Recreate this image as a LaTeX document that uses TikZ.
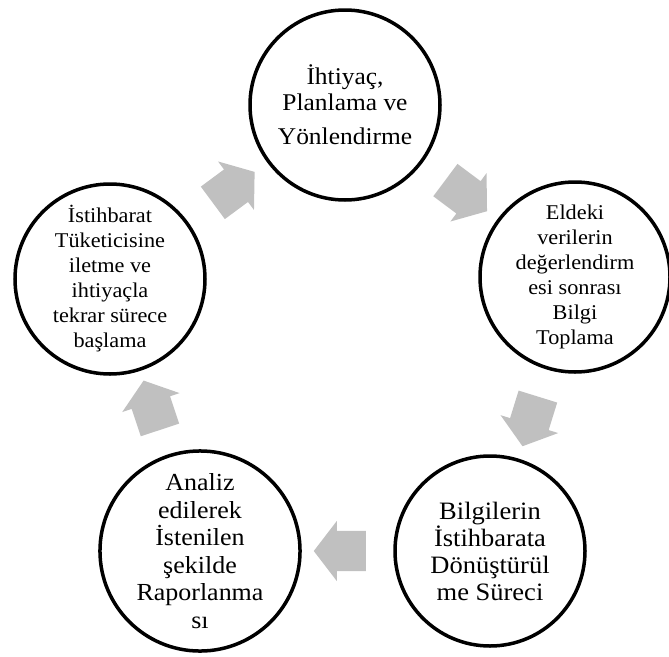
\documentclass[tikz,border=0pt]{standalone}
\usepackage{fontspec}
\setmainfont{Liberation Serif}[FakeStretch=1.06]
\usetikzlibrary{shapes.arrows}
\definecolor{arrowgray}{RGB}{192,192,192}

\begin{document}
\begin{tikzpicture}[x=1pt,y=-1pt,
  stage/.style={draw,circle,line width=3.5pt,minimum size=190pt,inner sep=0pt,align=center},
  blockarrow/.style={single arrow,fill=arrowgray,draw=none,sloped,allow upside down,
    minimum height=52pt,inner xsep=0pt,inner ysep=20pt,single arrow head extend=10pt,
    single arrow tip angle=105}]
\useasboundingbox (0,0) rectangle (669,656);

\node[stage,font={\fontsize{24}{26}\selectfont}] (need) at (345,105)
  {İhtiyaç,\\ Planlama ve\\[8pt] Yönlendirme};
\node[stage,font={\fontsize{21}{25}\selectfont}] (collect) at (575,277)
  {Eldeki\\ verilerin\\ değerlendirm\\ esi sonrası\\ Bilgi\\ Toplama};
\node[stage,font={\fontsize{25}{27}\selectfont}] (process) at (490,551)
  {Bilgilerin\\ İstihbarata\\ Dönüştürül\\ me Süreci};
\node[stage,font={\fontsize{24.5}{27.5}\selectfont}] (report) at (200,551)
  {Analiz\\ edilerek\\ İstenilen\\ şekilde\\ Raporlanma\\ sı};
\node[stage,font={\fontsize{21}{25}\selectfont}] (deliver) at (110,279)
  {İstihbarat\\ Tüketicisine\\ iletme ve\\ ihtiyaçla\\ tekrar sürece\\ başlama};

% grey block arrows half way between the stages
\path (need)    -- node[blockarrow] {} (collect)
      (collect) -- node[blockarrow] {} (process)
      (process) -- node[blockarrow] {} (report)
      (report)  -- node[blockarrow] {} (deliver)
      (deliver) -- node[blockarrow] {} (need);

\end{tikzpicture}
\end{document}
